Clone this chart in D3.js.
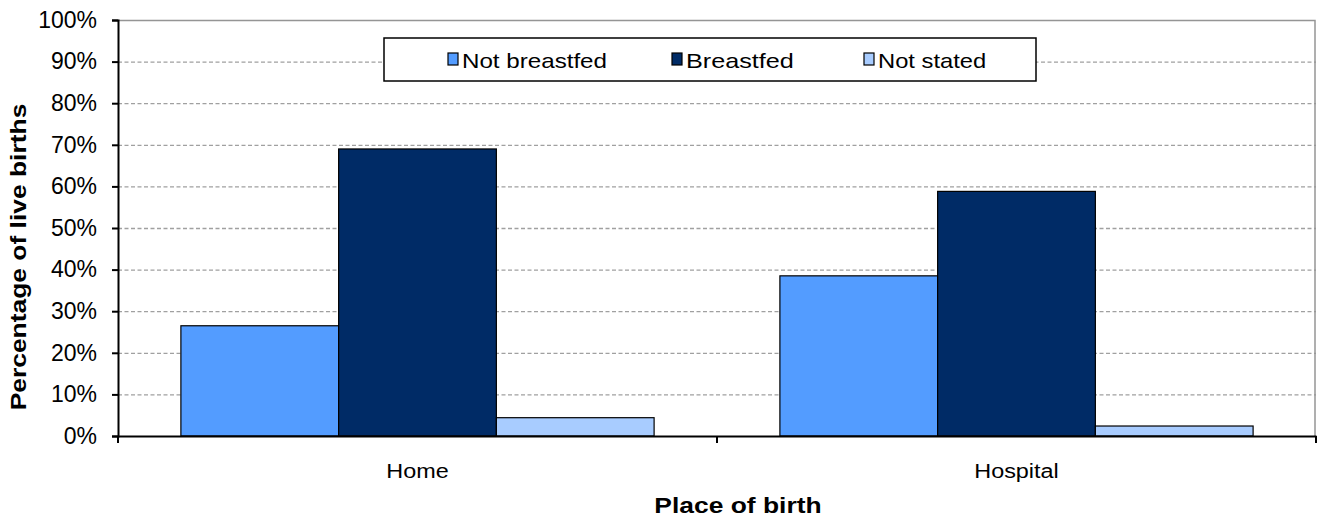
<!DOCTYPE html>
<html><head><meta charset="utf-8">
<script src="https://cdn.jsdelivr.net/npm/d3@7"></script>
<style>body{margin:0;background:#fff;} svg{display:block;font-family:Arial,"Liberation Sans",sans-serif;}</style>
</head><body>
<script>
const categories = ["Home", "Hospital"];
const seriesNames = ["Not breastfed", "Breastfed", "Not stated"];
const notBreastfed = [26.5, 38.5];
const breastfed = [69.0, 58.8];
const notStated = [4.4, 2.4];
const tickValues = [0,10,20,30,40,50,60,70,80,90,100];
const colors = ["#539CFF", "#002B66", "#A8CCFF"];

const W = 1318, H = 517;
const m = {left:118, right:1316, top:20, bottom:436};
const svg = d3.select("body").append("svg").attr("width", W).attr("height", H);

function stretch(sel, k) {
  sel.each(function() {
    const L = this.getComputedTextLength();
    d3.select(this).attr("textLength", L * k).attr("lengthAdjust", "spacingAndGlyphs");
  });
}

const x = d3.scaleBand().domain(categories).range([m.left, m.right]).paddingInner(0.21).paddingOuter(0.105);
const xs = d3.scaleBand().domain(seriesNames).range([0, x.bandwidth()]);
const y = d3.scaleLinear().domain([0,100]).range([m.bottom, m.top]);

// gridlines
svg.append("g").selectAll("line").data(tickValues.filter(d=>d>0 && d<100)).join("line")
  .attr("x1", m.left).attr("x2", m.right).attr("y1", d=>y(d)+0.5).attr("y2", d=>y(d)+0.5)
  .attr("stroke", "#A0A0A0").attr("stroke-width", 1.3).attr("stroke-dasharray", "4,2.5");
// top and right border
svg.append("path").attr("d", `M${m.left},${y(100)+0.5}H${m.right-1}V${m.bottom}`)
  .attr("fill","none").attr("stroke","#959595").attr("stroke-width",1.5);

const data = [notBreastfed, breastfed, notStated];
seriesNames.forEach((s, i) => {
  svg.append("g").selectAll("rect").data(categories).join("rect")
    .attr("x", c => x(c) + xs(s))
    .attr("y", (c, j) => y(data[i][j]))
    .attr("width", xs.bandwidth())
    .attr("height", (c, j) => y(0) - y(data[i][j]))
    .attr("fill", colors[i]).attr("stroke", "#000").attr("stroke-width", 1.2);
});

// y axis
const ya = svg.append("g").attr("transform", `translate(${m.left},0)`)
  .call(d3.axisLeft(y).tickValues(tickValues).tickFormat(d=>d+"%").tickSize(6).tickPadding(15));
ya.select(".domain").attr("stroke","#000").attr("stroke-width",2);
ya.selectAll(".tick line").attr("stroke","#000").attr("stroke-width",2);
ya.selectAll(".tick text").attr("font-size", 23).attr("fill","#000").attr("font-family","Arial,'Liberation Sans',sans-serif");

// x axis
const xa = svg.append("g").attr("transform", `translate(0,${m.bottom})`)
  .call(d3.axisBottom(x).tickSize(0).tickPadding(24));
xa.select(".domain").attr("stroke","#000").attr("stroke-width",2);
xa.selectAll(".tick text").attr("font-size", 20).attr("fill","#000").attr("font-family","Arial,'Liberation Sans',sans-serif")
  .attr("dy", "0.9em");
stretch(xa.selectAll(".tick text"), 1.17);
// category separator ticks
const seps = [m.left, (m.left+m.right)/2, m.right];
svg.append("g").selectAll("line").data(seps).join("line")
  .attr("x1", d=>d).attr("x2", d=>d).attr("y1", m.bottom).attr("y2", m.bottom+7)
  .attr("stroke","#000").attr("stroke-width",2);

// axis titles
const xt = svg.append("text").attr("x", 738).attr("y", 513).attr("text-anchor","middle")
  .attr("font-size", 22).attr("font-weight","bold").text("Place of birth");
stretch(xt, 1.2);
const yt = svg.append("text").attr("transform", "translate(26,257) rotate(-90)").attr("text-anchor","middle")
  .attr("font-size", 22).attr("font-weight","bold").text("Percentage of live births");
stretch(yt, 1.2);

// legend
const lg = svg.append("g");
lg.append("rect").attr("x", 384).attr("y", 38).attr("width", 652).attr("height", 43)
  .attr("fill","#fff").attr("stroke","#000").attr("stroke-width",1.5);
const legX = [448, 672, 864];
const legK = [1.15, 1.2, 1.13];
seriesNames.forEach((s, i) => {
  lg.append("rect").attr("x", legX[i]).attr("y", 53).attr("width", 10).attr("height", 12)
    .attr("fill", colors[i]).attr("stroke","#000").attr("stroke-width",1.2);
  const t = lg.append("text").attr("x", legX[i]+14).attr("y", 68).attr("font-size", 21).text(s);
  stretch(t, legK[i]);
});
</script>
</body></html>
